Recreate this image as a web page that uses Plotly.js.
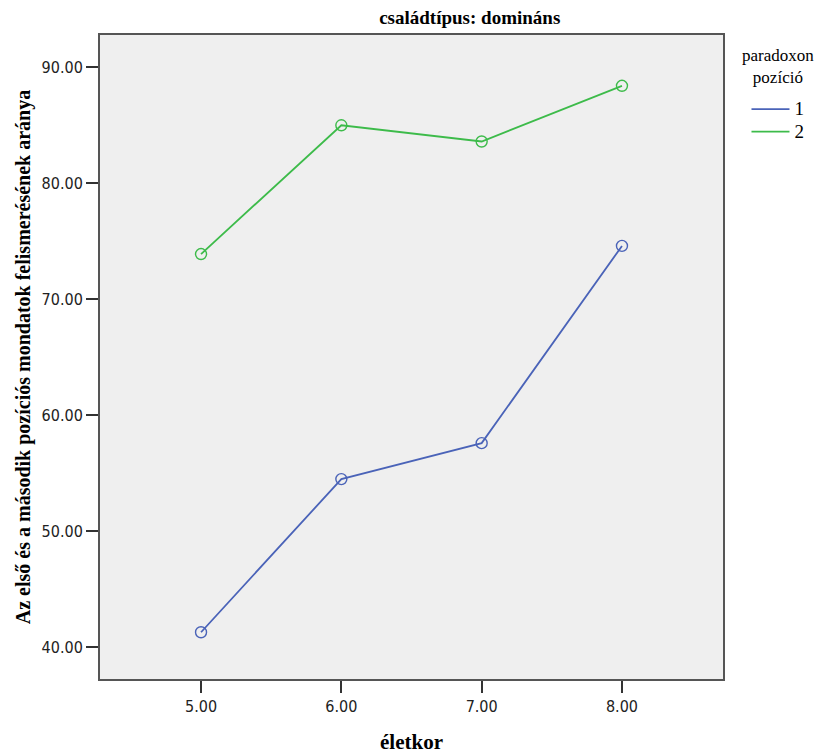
<!DOCTYPE html>
<html><head><meta charset="utf-8">
<script src="https://cdn.plot.ly/plotly-3.0.1.min.js"></script>
<style>body{margin:0;background:#fff}#chart{width:827px;height:754px}</style>
</head><body><div id="chart"></div>
<script>
const ages = [5, 6, 7, 8];
const tickVals = [5, 6, 7, 8];
const tickText = ["5.00", "6.00", "7.00", "8.00"];
const yTickVals = [40, 50, 60, 70, 80, 90];
const yTickText = ["40.00", "50.00", "60.00", "70.00", "80.00", "90.00"];
const series1 = [41.3, 54.5, 57.6, 74.6];
const series2 = [73.9, 85.0, 83.6, 88.4];
const seriesNames = ["1", "2"];
const colors = ["#4a63b8", "#3dbb4a"];

const serif = "Liberation Serif, Times New Roman, serif";
const tickFont = {family: "DejaVu Sans Condensed, Liberation Sans Narrow, sans-serif", size: 16, color: "#222"};

const traces = [];
[series1, series2].forEach((vals, i) => {
  traces.push({
    x: ages, y: vals, name: '<span style="font-size:19px">' + seriesNames[i] + '</span>',
    type: "scatter", mode: "lines",
    line: {color: colors[i], width: 1.8}, legendgroup: "g" + i
  });
  traces.push({
    x: ages, y: vals, name: seriesNames[i], type: "scatter", mode: "markers", showlegend: false,
    marker: {symbol: "circle-open", size: 11, color: colors[i], line: {width: 1.4}}, legendgroup: "g" + i
  });
});

const layout = {
  width: 827, height: 754,
  margin: {l: 100, r: 104, t: 35, b: 75},
  paper_bgcolor: "#fff", plot_bgcolor: "#efefef",
  showlegend: true,
  title: {text: "<b>családtípus: domináns</b>", font: {family: serif, size: 19, color: "#000"}, x: 0.568, xanchor: "center", y: 0.977, yanchor: "middle"},
  xaxis: {
    range: [4.28, 8.72], tickvals: tickVals, ticktext: tickText,
    ticks: "outside", ticklen: 12, tickwidth: 2, tickcolor: "#333",
    showline: true, mirror: true, linecolor: "#555", linewidth: 2,
    showgrid: false, zeroline: false, tickfont: tickFont,
    title: {text: "<b>életkor</b>", font: {family: serif, size: 21, color: "#000"}, standoff: 20}
  },
  yaxis: {
    range: [37.27, 92.78], tickvals: yTickVals, ticktext: yTickText,
    ticks: "outside", ticklen: 12, tickwidth: 2, tickcolor: "#333",
    showline: true, mirror: true, linecolor: "#555", linewidth: 2,
    showgrid: false, zeroline: false, tickfont: tickFont,
    title: {text: "<b>Az első és a második pozíciós mondatok felismerésének aránya</b>", font: {family: serif, size: 20, color: "#000"}, standoff: 6}
  },
  legend: {
    x: 1.0377, xanchor: "left", y: 0.91, yanchor: "top",
    font: {family: serif, size: 15, color: "#000"},
    itemwidth: 38, tracegroupgap: 0, bgcolor: "rgba(0,0,0,0)"
  },
  annotations: [
    {text: "paradoxon<br>pozíció", xref: "paper", yref: "paper", x: 1.0875, y: 0.951, xanchor: "center", yanchor: "middle",
     align: "center", showarrow: false, font: {family: serif, size: 17, color: "#000"}}
  ]
};

Plotly.newPlot("chart", traces, layout, {displayModeBar: false});
</script></body></html>
